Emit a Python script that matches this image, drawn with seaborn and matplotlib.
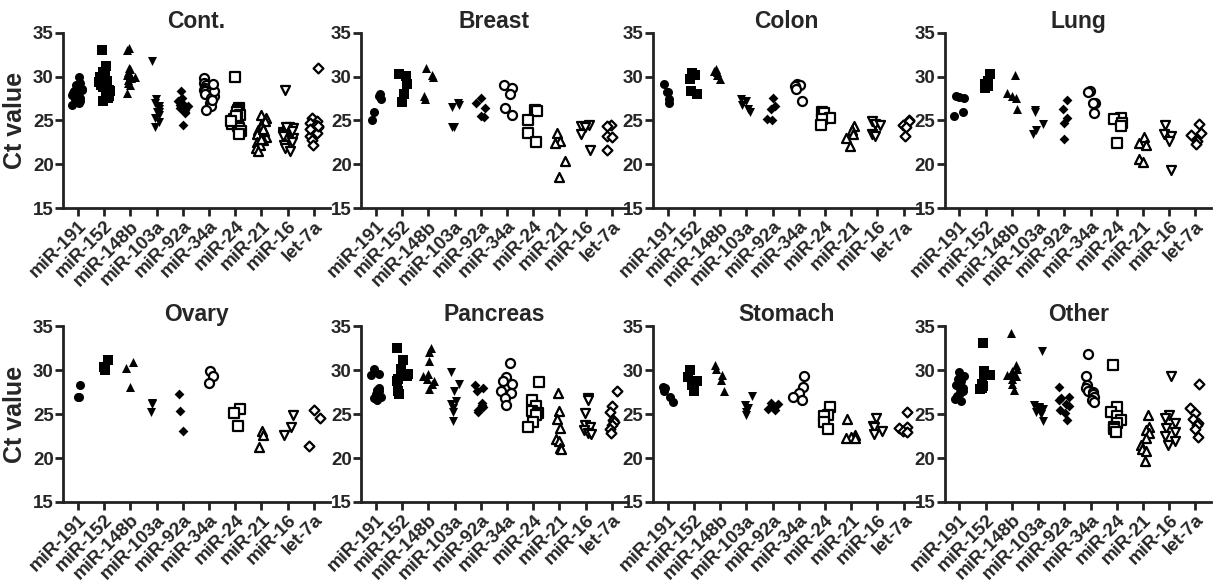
import numpy as np
import pandas as pd
import seaborn as sns
import matplotlib
matplotlib.use("Agg")
import matplotlib.pyplot as plt

sns.set_style("ticks")
plt.rcParams['font.family'] = ['Liberation Sans', 'DejaVu Sans']
plt.rcParams['font.weight'] = 'bold'
np.random.seed(3)

mirnas = ['miR-191', 'miR-152', 'miR-148b', 'miR-103a', 'miR-92a',
          'miR-34a', 'miR-24', 'miR-21', 'miR-16', 'let-7a']
markers = ['o', 's', '^', 'v', 'D', 'o', 's', '^', 'v', 'D']
filled = [True] * 5 + [False] * 5
panels = ['Cont.', 'Breast', 'Colon', 'Lung', 'Ovary', 'Pancreas', 'Stomach', 'Other']

# Ct 값
cont = [
    [30.0, 29.3, 29.0, 28.8, 28.6, 28.5, 28.4, 28.2, 28.1, 28.0, 27.9, 27.8, 27.6, 27.4, 27.2, 27.0, 26.8, 28.3, 27.7, 28.9],
    [33.0, 31.2, 30.5, 30.0, 29.8, 29.5, 29.2, 29.0, 28.8, 28.5, 28.3, 28.0, 27.8, 27.5, 27.2, 29.4, 28.7, 30.2],
    [33.2, 33.0, 31.0, 30.8, 30.5, 30.3, 30.1, 30.0, 29.8, 29.6, 29.3, 29.0, 28.1, 30.2, 29.9],
    [31.8, 27.4, 27.0, 26.6, 26.3, 26.0, 25.6, 25.3, 24.8, 24.3, 25.9],
    [28.3, 27.6, 27.2, 26.8, 26.6, 26.4, 26.2, 26.0, 25.8, 24.5, 26.7],
    [29.8, 29.3, 29.0, 28.7, 28.5, 28.3, 28.2, 28.0, 27.8, 27.5, 27.0, 26.6, 26.2, 28.4, 29.1, 27.3],
    [29.9, 26.4, 26.2, 25.9, 25.6, 25.4, 25.2, 25.0, 24.8, 24.6, 24.4, 24.1, 23.8, 23.5, 25.5, 24.9],
    [25.6, 25.3, 24.9, 24.5, 24.2, 23.9, 23.6, 23.4, 23.1, 22.8, 22.5, 22.2, 21.8, 21.5, 23.8, 24.0, 22.9],
    [28.5, 24.3, 24.1, 23.9, 23.7, 23.5, 23.3, 23.0, 22.8, 22.5, 22.2, 21.9, 21.5, 23.8, 24.2, 23.2],
    [31.0, 25.3, 24.9, 24.7, 24.5, 24.3, 24.1, 23.9, 23.6, 23.2, 22.8, 22.2, 24.4, 24.0],
]
breast = [
    [28.0, 27.8, 27.4, 25.9, 25.0],
    [30.3, 30.1, 29.1, 28.0, 27.1],
    [31.0, 30.2, 30.0, 27.8, 27.4],
    [27.0, 26.8, 26.5, 24.2, 24.2],
    [27.6, 27.0, 26.4, 25.5, 25.4],
    [29.0, 28.7, 28.0, 26.4, 25.6],
    [26.2, 26.1, 25.1, 23.6, 22.5],
    [23.6, 22.6, 22.4, 20.4, 18.6],
    [24.5, 24.4, 24.2, 23.5, 21.6],
    [24.5, 24.4, 23.2, 23.1, 21.6],
]
colon = [
    [29.2, 28.2, 28.2, 27.4, 27.0],
    [30.4, 30.2, 29.7, 28.3, 28.0],
    [30.9, 30.5, 30.2, 29.7, 30.6],
    [27.4, 27.2, 26.8, 26.3, 25.9],
    [27.6, 26.6, 26.3, 25.2, 25.0],
    [29.2, 29.0, 28.9, 28.6, 27.2],
    [26.0, 25.8, 25.3, 25.2, 24.5],
    [24.4, 23.9, 23.5, 23.0, 22.1],
    [24.9, 24.6, 24.5, 23.5, 23.2],
    [25.1, 24.9, 24.5, 24.2, 23.2],
]
lung = [
    [27.7, 27.6, 27.8, 26.0, 25.5],
    [30.3, 29.5, 29.2, 28.9, 28.7],
    [30.2, 28.1, 27.8, 27.5, 26.3],
    [26.2, 25.9, 24.6, 23.9, 23.5],
    [27.3, 26.3, 25.3, 24.7, 22.9],
    [28.3, 28.2, 27.0, 27.0, 25.8],
    [25.3, 25.2, 24.7, 24.4, 22.4],
    [23.1, 22.4, 22.2, 20.6, 20.3],
    [24.5, 23.4, 23.2, 22.6, 19.3],
    [24.6, 23.6, 23.3, 22.6, 22.3],
]
ovary = [
    [28.3, 27.0, 27.0],
    [31.2, 30.4, 30.0],
    [30.9, 30.3, 28.1],
    [26.3, 26.2, 25.3],
    [27.3, 25.4, 23.1],
    [29.9, 29.4, 28.6],
    [25.6, 25.1, 23.7],
    [23.1, 22.6, 21.3],
    [24.9, 23.6, 22.6],
    [25.5, 24.6, 21.4],
]
pancreas = [
    [30.1, 29.6, 29.5, 28.0, 27.8, 27.7, 27.3, 27.0, 26.8, 26.6],
    [32.6, 31.2, 30.1, 29.6, 29.3, 29.0, 28.8, 27.6, 27.3],
    [32.6, 32.1, 31.1, 29.6, 29.4, 29.0, 28.8, 28.4, 27.9],
    [29.8, 28.5, 27.6, 26.5, 26.2, 25.7, 25.2, 24.2],
    [28.3, 28.0, 27.6, 26.3, 26.0, 25.8, 25.5, 25.3],
    [30.8, 29.2, 28.8, 28.4, 27.6, 27.4, 26.8, 26.0],
    [28.7, 26.6, 25.9, 25.4, 25.1, 24.9, 24.1, 23.5],
    [27.4, 25.4, 24.4, 23.4, 22.2, 21.9, 21.2, 21.0],
    [26.9, 26.6, 25.1, 23.8, 23.5, 23.2, 22.9, 22.7],
    [27.6, 25.9, 25.3, 24.3, 24.1, 23.8, 23.3, 22.9],
]
stomach = [
    [28.1, 28.0, 27.7, 27.0, 26.4],
    [30.0, 29.2, 28.8, 28.3, 27.7],
    [30.6, 30.2, 29.5, 28.9, 27.7],
    [27.1, 26.1, 25.7, 25.3, 24.9],
    [26.3, 26.2, 25.8, 25.6, 25.5],
    [29.4, 28.1, 27.4, 27.0, 26.6],
    [25.8, 24.9, 24.8, 24.1, 23.3],
    [24.4, 22.6, 22.4, 22.3, 22.3],
    [24.6, 23.7, 23.5, 23.1, 22.8],
    [25.3, 23.6, 23.4, 23.1, 23.0],
]
other = [
    [29.8, 29.4, 29.0, 28.8, 28.3, 28.0, 27.7, 27.4, 27.1, 26.8, 26.5, 26.7, 27.9],
    [33.1, 29.9, 29.6, 29.5, 28.5, 28.2, 28.0, 27.9],
    [34.3, 30.6, 30.2, 29.9, 29.6, 29.3, 29.0, 28.4, 27.8, 29.5],
    [32.2, 26.0, 25.8, 25.6, 25.5, 25.3, 25.0, 24.2, 25.7],
    [28.1, 27.0, 26.6, 26.2, 25.9, 25.5, 25.1, 24.3, 26.9],
    [31.9, 29.4, 28.3, 28.0, 27.7, 27.5, 27.3, 27.0, 26.6, 26.4],
    [30.6, 25.8, 25.2, 24.8, 24.3, 24.0, 23.6, 23.3, 23.0],
    [24.9, 23.5, 23.2, 22.9, 22.3, 21.5, 21.0, 20.8, 19.7],
    [29.4, 24.9, 24.6, 24.0, 23.4, 23.0, 22.5, 22.0, 21.5],
    [28.5, 25.7, 25.1, 24.4, 24.0, 23.8, 23.3, 22.4],
]
panel_data = [cont, breast, colon, lung, ovary, pancreas, stomach, other]

fig = plt.figure(figsize=(12.21, 5.83), dpi=100)
lefts = [0.052, 0.296, 0.535, 0.774]
bottoms = [0.643, 0.139]
w, h = 0.218, 0.301

for i, (name, data) in enumerate(zip(panels, panel_data)):
    ax = fig.add_axes([lefts[i % 4], bottoms[i // 4], w, h])
    for j, vals in enumerate(data):
        df = pd.DataFrame({'mirna': mirnas[j], 'ct': vals})
        if filled[j]:
            kw = dict(color='black', edgecolor='black', linewidth=0)
        else:
            kw = dict(color='white', edgecolor='black', linewidth=1.6)
        ms = 5 if markers[j] == 'D' else 6.5
        sns.stripplot(data=df, x='mirna', y='ct', order=mirnas, marker=markers[j],
                      size=ms, jitter=0.22, ax=ax, **kw)
    ax.set_ylim(15, 35)
    ax.set_xlim(-0.55, 9.6)
    ax.set_yticks([15, 20, 25, 30, 35])
    ax.set_title(name, fontsize=16.5, fontweight='bold', pad=3)
    ax.set_xlabel('')
    ax.set_ylabel('Ct value' if i % 4 == 0 else '', fontsize=18, fontweight='bold', labelpad=4)
    ax.tick_params(axis='both', width=2, length=6, labelsize=13.5, pad=1, color='#222222')
    plt.setp(ax.get_xticklabels(), rotation=45, ha='right', rotation_mode='anchor', fontweight='bold')
    plt.setp(ax.get_yticklabels(), fontweight='bold')
    for s in ['left', 'bottom']:
        ax.spines[s].set_linewidth(2)
        ax.spines[s].set_color('#222222')
    sns.despine(ax=ax)

plt.savefig('out.png', dpi=100)
